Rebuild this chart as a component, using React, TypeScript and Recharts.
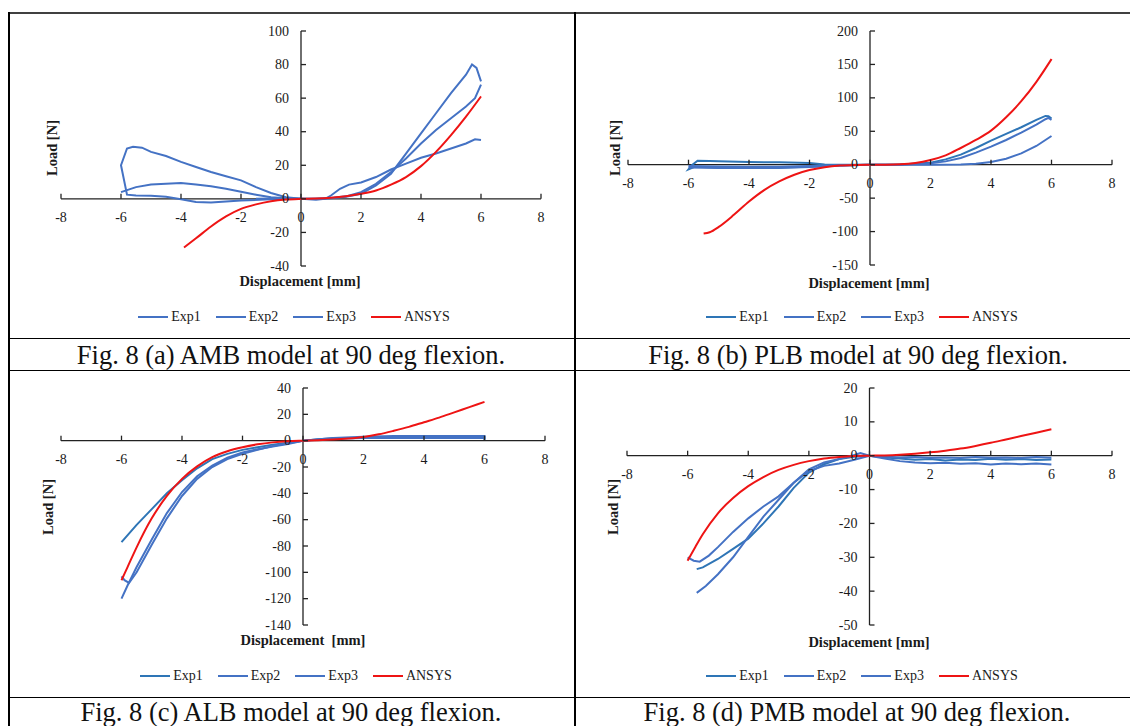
import React from 'react'
import { LineChart, Line, XAxis, YAxis, ReferenceLine, ReferenceDot, Legend } from 'recharts'

const FONT = '"Liberation Serif", "Times New Roman", serif'
const BLUE = '#4472C4'
const BLUE_DARK = '#2E75B6'
const RED = '#EE1414'
const AXIS = '#222'
const INK = '#1a1a1a'

const seriesNames = ['Exp1', 'Exp2', 'Exp3', 'ANSYS']
const xTicks = [-8, -6, -4, -2, 0, 2, 4, 6, 8]

// (a) AMB
const yTicksA = [-40, -20, 0, 20, 40, 60, 80, 100]
const aExp1 = [[0, 0], [-1, -0.3], [-2, -1], [-2.5, -1.6], [-3, -2.2], [-3.5, -1.8], [-4, -0.3], [-4.5, 1.2], [-5, 1.8], [-5.5, 2], [-5.8, 2.5], [-6, 20], [-5.8, 30], [-5.6, 31], [-5.3, 30.5], [-5, 28], [-4.5, 25.5], [-4, 22], [-3.5, 19], [-3, 16], [-2.5, 13.5], [-2, 11], [-1.5, 7], [-1, 3.5], [-0.5, 1], [0, 0], [0.5, 0], [1, 0.3], [1.5, 1.2], [2, 3], [2.5, 8], [3, 15], [3.5, 27], [4, 39], [4.5, 51], [5, 63], [5.5, 74], [5.7, 80], [5.85, 78], [6, 70]]
const aExp2 = [[-6, 4], [-5.5, 7], [-5, 8.5], [-4.5, 9], [-4, 9.5], [-3.5, 8.5], [-3, 7.5], [-2.5, 6], [-2, 4.2], [-1.5, 2.5], [-1, 1], [-0.5, 0.3], [0, 0], [0.5, 0], [1, 0.5], [1.5, 1.5], [2, 4], [2.5, 9], [3, 16], [3.5, 24], [4, 33], [4.5, 41], [5, 48], [5.5, 55], [5.8, 60], [5.9, 64], [6, 68]]
const aExp3 = [[-1.5, 0], [-1, 0.2], [0, 0], [0.5, -0.5], [0.8, 0], [1, 2], [1.3, 6], [1.6, 8.5], [2, 9.8], [2.5, 13], [3, 17.5], [3.5, 21], [4, 24.5], [4.5, 27], [5, 30], [5.5, 33], [5.8, 35.5], [6, 35]]
const aAnsys = [[-3.9, -29], [-3.5, -23.5], [-3, -16.5], [-2.5, -10.5], [-2, -6], [-1.5, -3.3], [-1, -1.4], [-0.5, -0.4], [0, 0], [0.5, 0.2], [1, 0.7], [1.5, 1.6], [2, 3], [2.5, 5], [3, 8.5], [3.5, 13], [4, 19.5], [4.5, 28], [5, 38], [5.5, 49], [6, 61]]

// (b) PLB
const yTicksB = [-150, -100, -50, 0, 50, 100, 150, 200]
const bExp1 = [[0, 0], [-1, -1], [-2, -3], [-3, -4], [-4, -4.5], [-5, -4], [-5.8, -3], [-6, -7], [-5.9, -1], [-5.7, 6], [-5.3, 5.5], [-5, 5], [-4, 4], [-3, 3.5], [-2, 2.5], [-1.5, 0.5], [-1, 0], [0, 0], [1, 0.5], [2, 3], [2.5, 8], [3, 15], [3.5, 25], [4, 36], [4.5, 46], [5, 56], [5.5, 67], [5.8, 73], [5.9, 72.5], [6, 69]]
const bExp2 = [[-6, -2], [-5, -2.5], [-4, -3], [-3, -3], [-2, -2], [-1, -0.8], [0, 0], [1, 0.3], [2, 2], [2.5, 5], [3, 10], [3.5, 18], [4, 27], [4.5, 37], [5, 48], [5.5, 60], [5.8, 68], [5.9, 70], [6, 67]]
const bExp3 = [[-6, -4], [-5, -5], [-4, -5], [-3, -5], [-2, -3.5], [-1, -1], [0, 0], [1, 0], [2, 0], [3, 0.5], [3.5, 1.5], [4, 4], [4.5, 9], [5, 17], [5.5, 28], [6, 43]]
const bAnsys = [[-5.5, -103], [-5.3, -101], [-5, -93], [-4.5, -75], [-4, -55], [-3.5, -38], [-3, -25], [-2.5, -15], [-2, -8], [-1.5, -3.8], [-1, -1.3], [-0.5, -0.3], [0, 0], [0.5, 0.1], [1, 0.6], [1.5, 2.5], [2, 7], [2.5, 14], [3, 25], [3.5, 37], [4, 51], [4.5, 71], [5, 95], [5.5, 124], [6, 158]]

// (c) ALB
const yTicksC = [-140, -120, -100, -80, -60, -40, -20, 0, 20, 40]
const cExp1 = [[-6, -77], [-5.5, -64], [-5, -52], [-4.5, -40], [-4, -30], [-3.5, -21], [-3, -14], [-2.5, -10], [-2, -7], [-1.5, -5], [-1, -3], [-0.5, -1.5], [0, 0], [0.5, 1], [1, 1.8], [2, 2.2], [3, 2.6], [4, 2.8], [5, 2.6], [6, 2.8], [6, 0.5]]
const cExp2 = [[-6, -120], [-5.8, -110], [-5.5, -96], [-5, -75], [-4.5, -55], [-4, -39], [-3.5, -27], [-3, -19], [-2.5, -13], [-2, -9], [-1.5, -6.5], [-1, -4.5], [-0.5, -2.5], [0, 0], [1, 1.5], [2, 2], [3, 2], [4, 2], [5, 2], [6, 2]]
const cExp3 = [[-6, -103], [-5.9, -106], [-5.75, -108], [-5.5, -100], [-5, -79], [-4.5, -59], [-4, -42], [-3.5, -29], [-3, -20], [-2.5, -14], [-2, -10], [-1.5, -7], [-1, -4], [-0.5, -2], [0, 0], [1, 2], [2, 3], [3, 3.5], [4, 3.5], [5, 3.5], [6, 3.5], [6, 1]]
const cAnsys = [[-6, -106], [-5.8, -96], [-5.5, -81], [-5, -59], [-4.5, -42], [-4, -29], [-3.5, -19.5], [-3, -12.5], [-2.5, -8], [-2, -5], [-1.5, -2.8], [-1, -1.3], [-0.5, -0.4], [0, 0], [0.5, 0.3], [1, 0.8], [1.5, 1.6], [2, 2.8], [2.5, 4.8], [3, 7.5], [3.5, 10.5], [4, 14], [4.5, 17.5], [5, 21.5], [5.5, 25.5], [6, 29.5]]

// (d) PMB
const yTicksD = [-50, -40, -30, -20, -10, 0, 10, 20]
const dExp1 = [[-5.7, -33.5], [-5.5, -33], [-5, -30.5], [-4.5, -27.5], [-4, -24.5], [-3.5, -20], [-3, -15], [-2.5, -9.5], [-2, -5], [-1.5, -2.5], [-1, -1], [-0.5, -0.3], [0, 0], [0.5, -0.5], [1, -0.8], [1.5, -1.2], [2, -1], [2.5, -1.4], [3, -1.1], [3.5, -1.3], [4, -0.9], [4.5, -1.2], [5, -1], [5.5, -1.3], [6, -1.1]]
const dExp2 = [[-5.7, -40.5], [-5.4, -38.5], [-5, -35], [-4.5, -30], [-4, -24], [-3.5, -18], [-3, -13], [-2.5, -8], [-2, -4.5], [-1.5, -3], [-1, -2.3], [-0.5, -1.2], [0, 0], [0.5, -0.8], [1, -1.6], [1.5, -2], [2, -2.2], [2.5, -2.1], [3, -2.4], [3.5, -2.2], [4, -2.6], [4.5, -2.3], [5, -2.5], [5.5, -2.3], [6, -2.6]]
const dExp3 = [[-6, -30], [-5.8, -31], [-5.6, -31.3], [-5.3, -29.5], [-5, -27], [-4.5, -22.5], [-4, -18.5], [-3.5, -15], [-3, -12], [-2.5, -8], [-2, -4], [-1.5, -2], [-1, -1], [-0.5, 0.2], [-0.3, 0.8], [0, 0], [0.5, -0.2], [1, -0.5], [1.5, -0.4], [2, -0.6], [2.5, -0.5], [3, -0.7], [3.5, -0.4], [4, -0.6], [4.5, -0.5], [5, -0.7], [5.5, -0.4], [6, -0.6]]
const dAnsys = [[-6, -31], [-5.75, -27], [-5.5, -23.2], [-5, -17], [-4.5, -12.5], [-4, -9], [-3.5, -6.3], [-3, -4.2], [-2.5, -2.7], [-2, -1.6], [-1.5, -0.8], [-1, -0.35], [-0.5, -0.1], [0, 0], [0.5, 0.1], [1, 0.3], [1.5, 0.6], [2, 1], [2.5, 1.5], [3, 2.1], [3.5, 2.9], [4, 3.8], [4.5, 4.8], [5, 5.8], [5.5, 6.8], [6, 7.8]]

const toPts = (arr: number[][]) => arr.map(([x, y]) => ({ x, y }))

const xTickShape = (v: number) => (p: any) => (
  <g>
    <line x1={p.cx} x2={p.cx} y1={p.cy} y2={p.cy - 5} stroke={AXIS} strokeWidth={1.3} />
    <text x={p.cx} y={p.cy + 23} textAnchor="middle" fontSize={14} fill={INK} fontFamily={FONT}>
      {v}
    </text>
  </g>
)

const yTickShape = (v: number) => (p: any) => (
  <g>
    <line x1={p.cx} x2={p.cx + 5} y1={p.cy} y2={p.cy} stroke={AXIS} strokeWidth={1.3} />
    <text x={p.cx - 12} y={p.cy + 4.5} textAnchor="end" fontSize={14} fill={INK} fontFamily={FONT}>
      {v}
    </text>
  </g>
)

// legend in series order (recharts sorts by name otherwise)
const LegendContent = (props: any) => {
  const items = [...(props.payload || [])].sort(
    (a: any, b: any) => seriesNames.indexOf(a.value) - seriesNames.indexOf(b.value)
  )
  return (
    <div
      style={{
        display: 'flex',
        justifyContent: 'center',
        alignItems: 'center',
        height: 20,
        fontFamily: FONT,
        fontSize: 14,
        color: INK,
      }}
    >
      {items.map((e: any, i: number) => (
        <span key={e.value} style={{ display: 'inline-flex', alignItems: 'center', marginLeft: i ? 15 : 0 }}>
          <span style={{ display: 'inline-block', width: 30, height: 2, background: e.color, marginRight: 3 }} />
          {e.value}
        </span>
      ))}
    </div>
  )
}

interface PanelProps {
  left: number
  top: number
  width: number
  height: number
  margin: { top: number; right: number; bottom: number; left: number }
  yDomain: [number, number]
  yTicks: number[]
  series: number[][][]
  colors: string[]
  legendX: number
  legendY: number
}

function Panel({ left, top, width, height, margin, yDomain, yTicks, series, colors, legendX, legendY }: PanelProps) {
  return (
    <div style={{ position: 'absolute', left, top }}>
      <LineChart width={width} height={height} margin={margin}>
        <XAxis type="number" dataKey="x" domain={[-8, 8]} hide allowDataOverflow />
        <YAxis type="number" dataKey="y" domain={yDomain} hide allowDataOverflow />
        <ReferenceLine x={0} stroke={AXIS} strokeWidth={1.3} />
        <ReferenceLine y={0} stroke={AXIS} strokeWidth={1.3} />
        {xTicks.map((v) => (
          <ReferenceDot key={'x' + v} x={v} y={0} r={1} ifOverflow="visible" shape={xTickShape(v)} />
        ))}
        {yTicks.map((v) => (
          <ReferenceDot key={'y' + v} x={0} y={v} r={1} ifOverflow="visible" shape={yTickShape(v)} />
        ))}
        {series.map((s, i) => (
          <Line
            key={seriesNames[i]}
            name={seriesNames[i]}
            data={toPts(s)}
            dataKey="y"
            type={i === 3 ? 'monotone' : 'linear'}
            stroke={colors[i]}
            strokeWidth={2}
            dot={false}
            activeDot={false}
            isAnimationActive={false}
          />
        ))}
        <Legend
          layout="horizontal"
          verticalAlign="middle"
          align="center"
          wrapperStyle={{ left: legendX - 200, top: legendY - 10, width: 400, height: 20 }}
          content={LegendContent}
        />
      </LineChart>
    </div>
  )
}

const titleStyle = { fontFamily: FONT, fontSize: 14.5, fontWeight: 700, fill: INK } as const
const captionStyle = { fontFamily: FONT, fontSize: 26.5, fill: '#111' } as const

export default function App() {
  return (
    <div style={{ position: 'absolute', left: 0, top: 0, width: 1130, height: 726, overflow: 'hidden', background: '#fff' }}>
      <svg width={1130} height={726} style={{ position: 'absolute', left: 0, top: 0 }}>
        <line x1={8} x2={1130} y1={13} y2={13} stroke="#000" strokeWidth={1.6} />
        <line x1={9} x2={9} y1={12} y2={726} stroke="#000" strokeWidth={2} />
        <line x1={575} x2={575} y1={12} y2={726} stroke="#000" strokeWidth={2} />
        <line x1={8} x2={1130} y1={338.5} y2={338.5} stroke="#000" strokeWidth={1} />
        <line x1={8} x2={1130} y1={370.5} y2={370.5} stroke="#000" strokeWidth={1} />
        <line x1={8} x2={1130} y1={697.5} y2={697.5} stroke="#000" strokeWidth={1} />

        <text x={291} y={364} textAnchor="middle" style={captionStyle}>Fig. 8 (a) AMB model at 90 deg flexion.</text>
        <text x={858} y={364} textAnchor="middle" style={captionStyle}>Fig. 8 (b) PLB model at 90 deg flexion.</text>
        <text x={291} y={721} textAnchor="middle" style={captionStyle}>Fig. 8 (c) ALB model at 90 deg flexion.</text>
        <text x={857} y={721} textAnchor="middle" style={captionStyle}>Fig. 8 (d) PMB model at 90 deg flexion.</text>

        <text x={57} y={148} textAnchor="middle" transform="rotate(-90 57 148)" style={titleStyle}>Load [N]</text>
        <text x={620} y={148} textAnchor="middle" transform="rotate(-90 620 148)" style={titleStyle}>Load [N]</text>
        <text x={53} y={507} textAnchor="middle" transform="rotate(-90 53 507)" style={titleStyle}>Load [N]</text>
        <text x={618} y={507} textAnchor="middle" transform="rotate(-90 618 507)" style={titleStyle}>Load [N]</text>

        <text x={300} y={286} textAnchor="middle" style={titleStyle}>Displacement [mm]</text>
        <text x={869} y={288} textAnchor="middle" style={titleStyle}>Displacement [mm]</text>
        <text x={303} y={645} textAnchor="middle" style={{ ...titleStyle, whiteSpace: 'pre' }}>Displacement  [mm]</text>
        <text x={869} y={647} textAnchor="middle" style={titleStyle}>Displacement [mm]</text>
      </svg>

      <Panel
        left={9}
        top={14}
        width={565}
        height={324}
        margin={{ top: 17, right: 33, bottom: 72, left: 52 }}
        yDomain={[-40, 100]}
        yTicks={yTicksA}
        series={[aExp1, aExp2, aExp3, aAnsys]}
        colors={[BLUE, BLUE, BLUE, RED]}
        legendX={285}
        legendY={303}
      />
      <Panel
        left={576}
        top={14}
        width={554}
        height={324}
        margin={{ top: 17, right: 18, bottom: 73, left: 52 }}
        yDomain={[-150, 200]}
        yTicks={yTicksB}
        series={[bExp1, bExp2, bExp3, bAnsys]}
        colors={[BLUE_DARK, BLUE, BLUE, RED]}
        legendX={286}
        legendY={303}
      />
      <Panel
        left={9}
        top={371}
        width={565}
        height={326}
        margin={{ top: 17, right: 29, bottom: 72, left: 52 }}
        yDomain={[-140, 40]}
        yTicks={yTicksC}
        series={[cExp1, cExp2, cExp3, cAnsys]}
        colors={[BLUE_DARK, BLUE, BLUE, RED]}
        legendX={287}
        legendY={305}
      />
      <Panel
        left={576}
        top={371}
        width={554}
        height={326}
        margin={{ top: 17, right: 18, bottom: 72, left: 51 }}
        yDomain={[-50, 20]}
        yTicks={yTicksD}
        series={[dExp1, dExp2, dExp3, dAnsys]}
        colors={[BLUE_DARK, BLUE, BLUE, RED]}
        legendX={286}
        legendY={305}
      />
    </div>
  )
}
